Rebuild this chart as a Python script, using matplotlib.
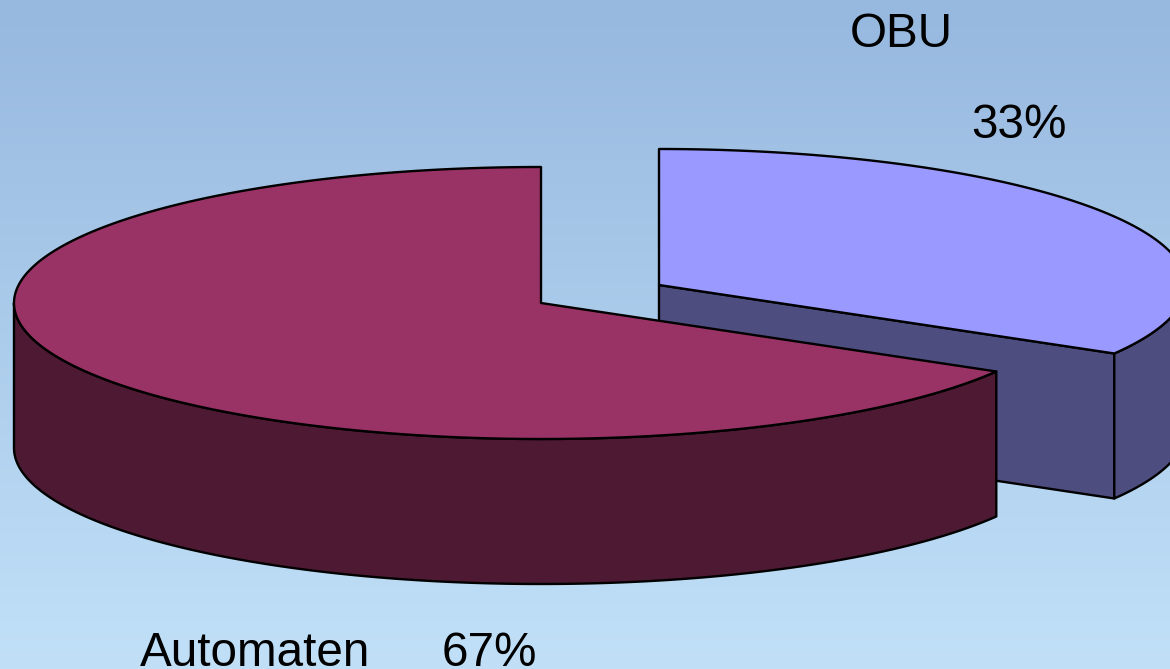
import matplotlib
matplotlib.use('Agg')
import matplotlib.pyplot as plt
from matplotlib.patches import Polygon
import numpy as np

labels = ['OBU', 'Automaten']
shares = [33.4, 66.6]
share_text = ['33%', '67%']
top_colors = ['#9999FF', '#993366']
side_colors = ['#4D4D80', '#4D1933']

plt.rcParams['font.family'] = ['Liberation Sans', 'DejaVu Sans']

W, H = 1170, 669
a, b, depth = 527, 136, 145
centers = [(659, 285), (541, 303)]

fig = plt.figure(figsize=(W / 100, H / 100), dpi=100)
ax = fig.add_axes([0, 0, 1, 1])
ax.set_xlim(0, W)
ax.set_ylim(H, 0)
ax.axis('off')

grad = np.linspace(0, 1, 256).reshape(-1, 1, 1)
top_bg = np.array([0x97, 0xB8, 0xDF]) / 255
bottom_bg = np.array([0xC1, 0xE0, 0xF8]) / 255
ax.imshow(top_bg + (bottom_bg - top_bg) * grad, extent=(0, W, H, 0), aspect='auto', zorder=0)


def arc(cx, cy, t1, t2, dy=0):
    t = np.radians(np.linspace(t1, t2, 300))
    return np.column_stack([cx + a * np.cos(t), cy - b * np.sin(t) + dy])


def poly(pts, color, z):
    ax.add_patch(Polygon(pts, closed=True, facecolor=color, edgecolor='black', lw=1.7,
                         joinstyle='round', zorder=z))


# OBU slice, pulled out to the right
end_angle = 90 - shares[0] / 100 * 360
cx, cy = centers[0]
rim = arc(cx, cy, end_angle, 0)
poly(np.vstack([[cx, cy], rim[0], rim[0] + [0, depth], [cx, cy + depth]]), side_colors[0], 1)
poly(np.vstack([rim, arc(cx, cy, 0, end_angle, depth)]), side_colors[0], 2)
poly(np.vstack([[cx, cy], arc(cx, cy, 90, end_angle)]), top_colors[0], 3)

# Automaten slice
cx, cy = centers[1]
poly(np.vstack([arc(cx, cy, 180, 360 + end_angle), arc(cx, cy, 360 + end_angle, 180, depth)]),
     side_colors[1], 4)
poly(np.vstack([[cx, cy], arc(cx, cy, 90, 360 + end_angle)]), top_colors[1], 5)

ax.text(850, 47, labels[0], fontsize=34.3, color='black', zorder=6)
ax.text(971, 138, share_text[0], fontsize=34.3, color='black', zorder=6)
ax.text(140, 666, labels[1], fontsize=34.3, color='black', zorder=6)
ax.text(442, 666, share_text[1], fontsize=34.3, color='black', zorder=6)

fig.savefig('out.png', dpi=100)
